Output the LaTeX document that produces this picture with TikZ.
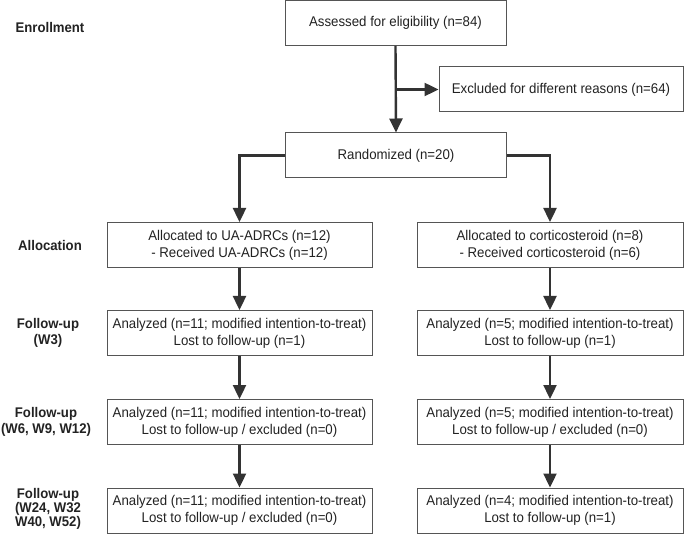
\documentclass[tikz,border=0pt]{standalone}
\usepackage{fontspec}
\setmainfont[FakeStretch=0.94]{Liberation Sans}
\usetikzlibrary{arrows.meta}
\definecolor{linec}{HTML}{333333}
\definecolor{boxc}{HTML}{555555}
\definecolor{txtc}{HTML}{222222}
\begin{document}
\begin{tikzpicture}[x=1pt,y=-1pt,
  box/.style={draw=boxc,line width=1pt,fill=white,text=txtc,align=center,
    inner sep=0pt,minimum height=45pt,font=\fontsize{14.1}{16.8}\selectfont},
  lbox/.style={box,minimum width=265pt},
  rbox/.style={box,minimum width=266pt},
  lab/.style={text=txtc,align=center,font=\bfseries\fontsize{14}{16.5}\selectfont},
  arr/.style={draw=linec,line width=2.4pt,-{Triangle[length=14pt,width=13pt]}}]
\useasboundingbox (0,0) rectangle (685,534);
% boxes
\node[box,minimum width=221pt] (assess) at (395.5,22.8) {Assessed for eligibility (n=84)};
\node[box,minimum width=244pt] (excl) at (561,89.5) {Excluded for different reasons (n=64)};
\node[box,minimum width=221pt] (rand) at (396,155.5) {Randomized (n=20)};
\node[lbox] (alocL) at (239.5,245) {Allocated to UA-ADRCs (n=12)\\- Received UA-ADRCs (n=12)};
\node[rbox] (alocR) at (550,245) {Allocated to corticosteroid (n=8)\\- Received corticosteroid (n=6)};
\node[lbox] (fuaL) at (239.5,333) {Analyzed (n=11; modified intention-to-treat)\\Lost to follow-up (n=1)};
\node[rbox] (fuaR) at (550,333) {Analyzed (n=5; modified intention-to-treat)\\Lost to follow-up (n=1)};
\node[lbox] (fubL) at (239.5,422) {Analyzed (n=11; modified intention-to-treat)\\Lost to follow-up / excluded (n=0)};
\node[rbox] (fubR) at (550,422) {Analyzed (n=5; modified intention-to-treat)\\Lost to follow-up / excluded (n=0)};
\node[lbox] (fucL) at (239.5,510.5) {Analyzed (n=11; modified intention-to-treat)\\Lost to follow-up / excluded (n=0)};
\node[rbox] (fucR) at (550,510.5) {Analyzed (n=4; modified intention-to-treat)\\Lost to follow-up (n=1)};
% labels
\node[lab] (lenr) at (50,28) {Enrollment};
\node[lab] (lall) at (50,245) {Allocation};
\node[lab] (lfa) at (48,333) {Follow-up\\(W3)};
\node[lab] (lfb) at (46,422) {Follow-up\\(W6, W9, W12)};
\node[lab,font=\bfseries\fontsize{14}{13.8}\selectfont] (lfc) at (48,509) {Follow-up\\(W24, W32\\W40, W52)};
% connectors
\coordinate (br) at (assess.south |- excl.west);
\draw[arr] (assess.south) -- (rand.north);
\draw[arr] (br) -- (excl.west);
\draw[arr] (rand.west) -| (alocL.north);
\draw[arr] (rand.east) -| (alocR.north);
\draw[arr] (alocL) -- (fuaL);
\draw[arr] (alocR) -- (fuaR);
\draw[arr] (fuaL) -- (fubL);
\draw[arr] (fuaR) -- (fubR);
\draw[arr] (fubL) -- (fucL);
\draw[arr] (fubR) -- (fucR);
\end{tikzpicture}
\end{document}
